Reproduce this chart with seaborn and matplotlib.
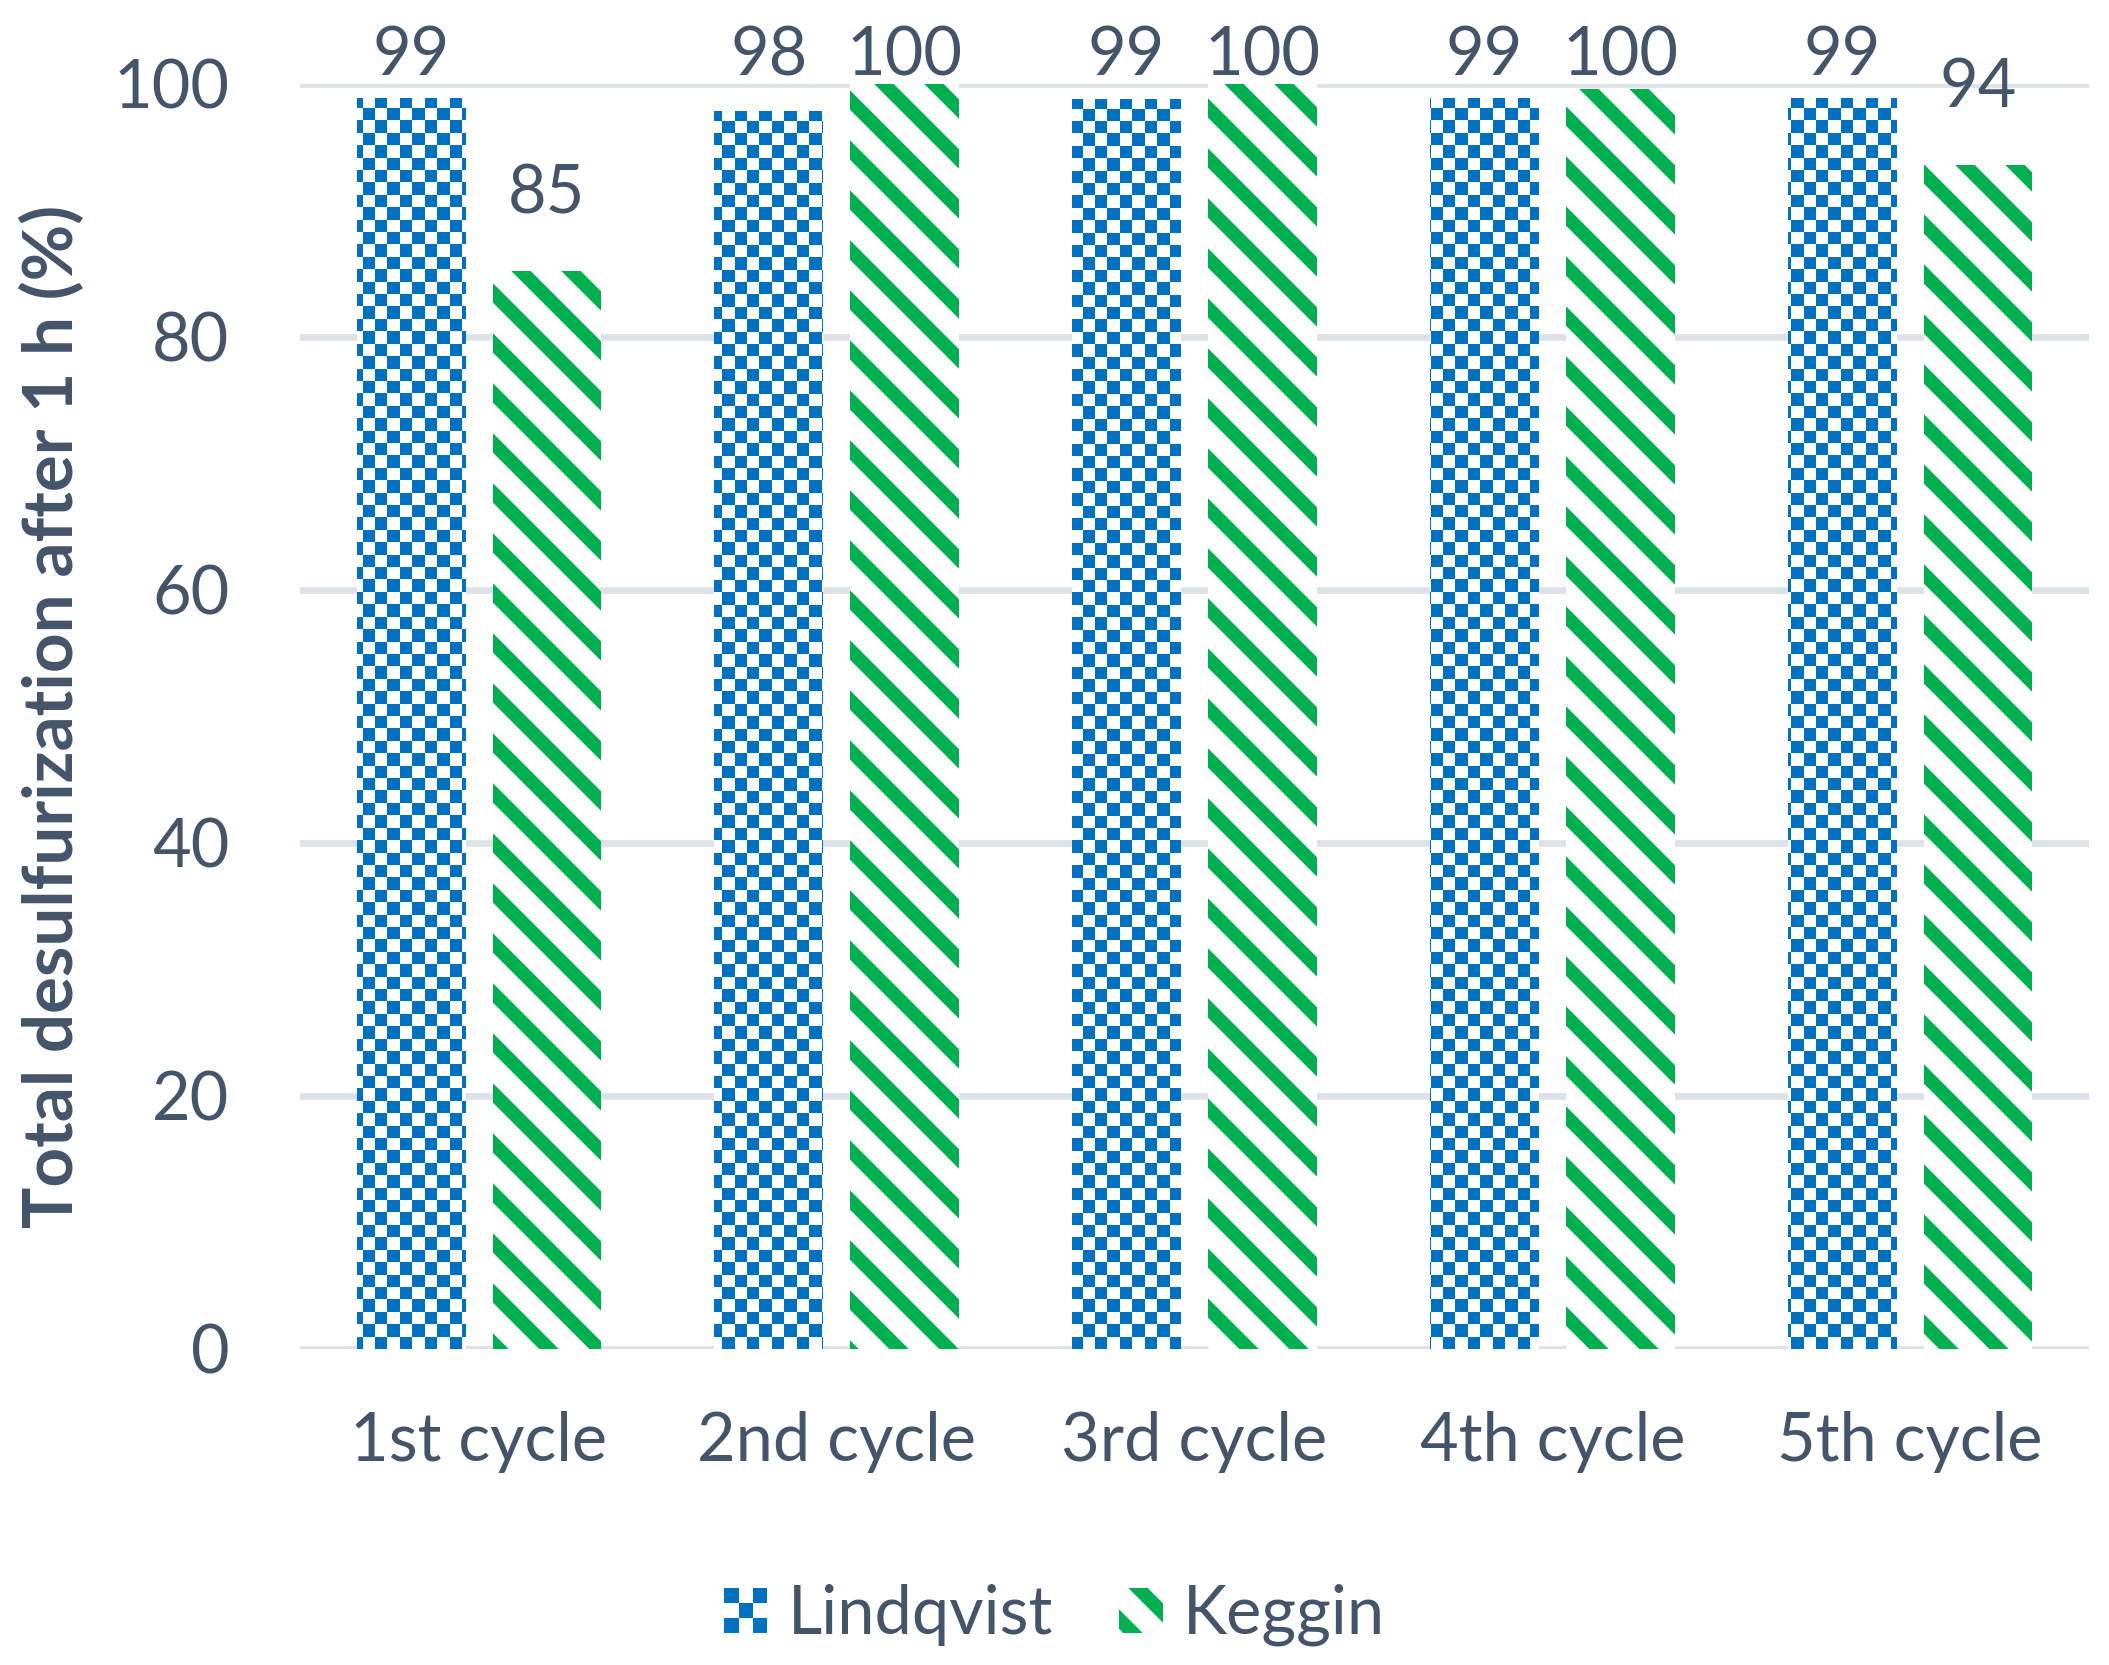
import numpy as np
import pandas as pd
import matplotlib
matplotlib.use('Agg')
import matplotlib.pyplot as plt
import seaborn as sns
from matplotlib.patches import Patch, Rectangle
from matplotlib.legend_handler import HandlerBase
from matplotlib.colors import ListedColormap

# data
cycles = ['1st cycle', '2nd cycle', '3rd cycle', '4th cycle', '5th cycle']
lindqvist = [98.9, 97.9, 98.8, 98.9, 98.9]
keggin = [85.2, 100.0, 100.0, 99.6, 93.6]
series_names = ['Lindqvist', 'Keggin']
y_ticks = [0, 20, 40, 60, 80, 100]

blue = '#0070C0'
green = '#00B050'
text_col = '#44546A'
grid_col = '#DDE2E9'

sns.set_style('white')
plt.rcParams['font.family'] = ['Lato', 'DejaVu Sans']
plt.rcParams['hatch.linewidth'] = 3.3
fs = 16

df = pd.DataFrame({
    'cycle': cycles * 2,
    'value': lindqvist + keggin,
    'catalyst': [series_names[0]] * len(cycles) + [series_names[1]] * len(cycles),
})

fig = plt.figure(figsize=(2109 / 300, 1665 / 300), dpi=300)
ax = fig.add_axes([0.14225, 0.18979, 0.84827, 0.75976])

sns.barplot(data=df, x='cycle', y='value', hue='catalyst', order=cycles,
            hue_order=series_names, palette=[blue, green], width=0.76, gap=0.2,
            errorbar=None, legend=False, ax=ax)

# checker pattern for Lindqvist bars (image clipped to each bar)
nx, ny = 144, 102
checker = (np.add.outer(np.arange(ny), np.arange(nx)) % 2).astype(float)
cmap = ListedColormap(['white', blue])
for bar in ax.containers[0]:
    bar.set_facecolor('white')
    bar.set_linewidth(0)
    im = ax.imshow(checker, cmap=cmap, extent=[0, 1, 0, 1], transform=ax.transAxes,
                   aspect='auto', interpolation='nearest', zorder=bar.get_zorder() + 0.1)
    im.set_clip_path(bar)

# diagonal stripes for Keggin bars
for bar in ax.containers[1]:
    bar.set_facecolor('white')
    bar.set_edgecolor(green)
    bar.set_hatch('\\\\')
    bar.set_linewidth(0)

ax.set_xlim(-0.5, 4.5)
ax.set_ylim(0, 100)
ax.set_yticks(y_ticks)
ax.set_axisbelow(True)
ax.grid(axis='y', color=grid_col, linewidth=1.6)
ax.grid(axis='x', visible=False)
for s in ax.spines.values():
    s.set_visible(False)
ax.tick_params(axis='x', length=0, pad=15, labelsize=fs, labelcolor=text_col)
ax.tick_params(axis='y', length=0, pad=17, labelsize=fs, labelcolor=text_col)
ax.set_xlabel('')
ax.set_ylabel('Total desulfurization after 1 h (%)', fontsize=16.6, fontweight='bold',
              color=text_col)
ax.yaxis.set_label_coords(-0.12, 0.5)

# value labels: above the bar, but kept inside the chart area at the top
for cont, vals in zip(ax.containers, [lindqvist, keggin]):
    for bar, v in zip(cont, vals):
        xc = bar.get_x() + bar.get_width() / 2
        ax.text(xc, min(v + 4.6, 100.7), f'{v:.0f}', ha='center', va='baseline',
                fontsize=fs, color=text_col, clip_on=False)


class CheckerHandler(HandlerBase):
    def create_artists(self, legend, orig_handle, xdescent, ydescent, width, height,
                       fontsize, trans):
        n = 3
        w, h = width / n, height / n
        arts = []
        for i in range(n):
            for j in range(n):
                c = blue if (i + j) % 2 == 0 else 'white'
                arts.append(Rectangle((-xdescent + j * w, -ydescent + i * h), w, h,
                                      facecolor=c, edgecolor='none', transform=trans))
        return arts


lind_handle = Patch(facecolor=blue)
keg_handle = Patch(facecolor='white', edgecolor=green, hatch='\\\\', linewidth=0)
fig.legend([lind_handle, keg_handle], series_names, loc='center',
           bbox_to_anchor=(0.5, 0.03), ncol=2, frameon=False, fontsize=fs,
           labelcolor=text_col, handlelength=0.65, handleheight=0.65,
           handletextpad=0.3, columnspacing=1.0,
           handler_map={lind_handle: CheckerHandler()})

fig.savefig('out.png', dpi=300)
